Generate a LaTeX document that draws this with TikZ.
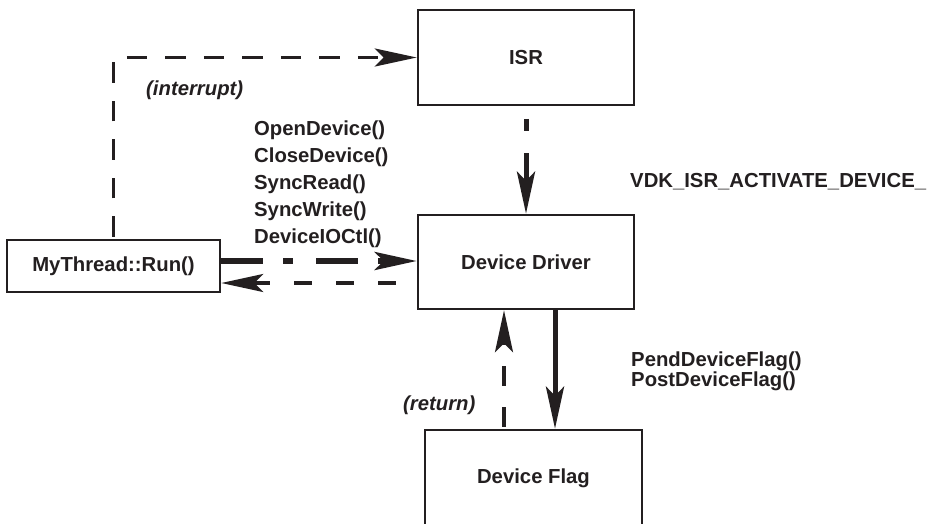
\documentclass[tikz,border=0pt]{standalone}
\usepackage{fontspec}
\setmainfont{Liberation Sans}
\usetikzlibrary{arrows.meta,calc}
\definecolor{ink}{RGB}{35,31,32}
\begin{document}
\begin{tikzpicture}[x=1pt,y=-1pt,
  every node/.style={font=\fontsize{20.3}{24}\selectfont\bfseries, text=ink},
  boxnode/.style={draw=ink, line width=2.5pt, rectangle, inner sep=0pt},
  lbl/.style={inner sep=0pt},
  tip/.style={-{Stealth[length=42pt,width=18pt,inset=9pt]}},
  thinline/.style={draw=ink, line width=3.8pt, tip},
  thickline/.style={draw=ink, line width=5pt, tip}
]
\useasboundingbox (0,0) rectangle (928,523);
\clip (0,0) rectangle (928,523);

\node[boxnode, minimum width=216pt, minimum height=95pt] (isr) at (526,57.5) {ISR};
\node[boxnode, minimum width=216pt, minimum height=94pt] (driver) at (526,262) {Device Driver};
\node[boxnode, minimum width=213pt, minimum height=52pt] (thread) at (113.5,266) {MyThread::Run()};
\node[boxnode, minimum width=217pt, minimum height=96pt] (flag) at (533.5,478) {Device Flag};

\coordinate (corner) at (thread.north |- isr.west);

% interrupt
\draw[thinline, dash pattern=on 20.5pt off 18pt, dash phase=36.5pt]
  (thread.north) -- (corner) -- (isr.west);
% ISR -> Driver
\draw[thickline, dash pattern=on 12.5pt off 22pt on 200pt off 12.5pt, dash phase=234.5pt]
  (isr.south) -- (driver.north);
% Thread -> Driver
\draw[thickline, line width=5.5pt, dash pattern=on 42pt off 20pt on 10pt off 23pt]
  ([yshift=5pt]thread.east) -- ([yshift=5pt]thread.east -| driver.west);
% Driver -> Thread
\draw[thinline, dash pattern=on 18pt off 24pt, dash phase=21pt]
  ([yshift=-17pt]thread.east -| driver.west) -- ([yshift=-17pt]thread.east);
% Driver -> Flag
\draw[thickline]
  ([xshift=29pt]driver.south) -- ([xshift=29pt]driver.south |- flag.north);
% Flag -> Driver (return)
\draw[thinline, dash pattern=on 20pt off 21pt, dash phase=39pt]
  ([xshift=-22pt]driver.south |- flag.north) -- ([xshift=-22pt]driver.south);

% labels
\node[lbl, anchor=west, font=\fontsize{20.3}{24}\selectfont\bfseries\itshape] (lint) at (146,90) {(interrupt)};
\node[lbl, anchor=west, align=left, font=\fontsize{20.3}{27}\selectfont\bfseries] (lcalls) at (254,184)
  {OpenDevice()\\CloseDevice()\\SyncRead()\\SyncWrite()\\DeviceIOCtl()};
\node[lbl, anchor=west] (lvdk) at (630,182) {VDK\_ISR\_ACTIVATE\_DEVICE\_};
\node[lbl, anchor=west, align=left, font=\fontsize{20.3}{19}\selectfont\bfseries] (lflag) at (631,371)
  {PendDeviceFlag()\\PostDeviceFlag()};
\node[lbl, anchor=west, font=\fontsize{20.3}{24}\selectfont\bfseries\itshape] (lret) at (403,405) {(return)};
\end{tikzpicture}
\end{document}
